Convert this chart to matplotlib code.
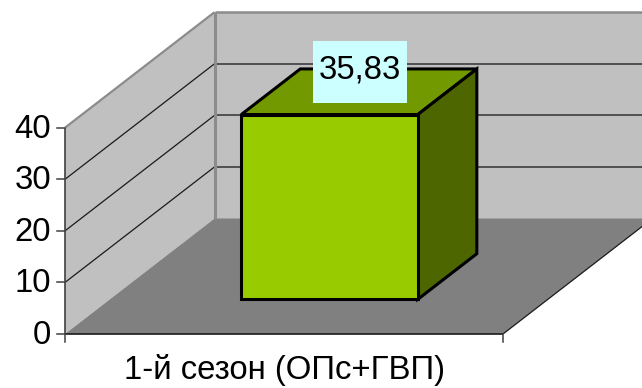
"""
3D-style single column chart drawn with an oblique projection.
"""
import matplotlib
matplotlib.use("Agg")
import matplotlib.pyplot as plt
from matplotlib.patches import Polygon

plt.rcParams["font.family"] = ["Liberation Sans", "DejaVu Sans"]

categories = ["1-й сезон (ОПс+ГВП)"]
values = [35.83]
value_labels = ["35,83"]
y_ticks = [0, 10, 20, 30, 40]

# Projection of the plot box on the canvas, in pixels
X0, X1 = 65.0, 503.0
Y0, Y40 = 334.0, 127.7
DEPTH_DX, DEPTH_DY = 149.5, -115.5
Y_MAX = y_ticks[-1]

# Column extents as fractions of the category width and of the box depth
BAR_LEFT, BAR_RIGHT = 0.30, 0.703
BAR_FRONT, BAR_BACK = 0.30, 0.695

WALL = "#c0c0c0"
FLOOR = "#808080"
EDGE = "#8c8c8c"
FONT_SIZE = 23.7


def project(x, y, depth=0.0):
    """Map category fraction, value and depth fraction to canvas pixels."""
    px = X0 + (X1 - X0) * x + DEPTH_DX * depth
    py = Y0 - (Y0 - Y40) * y / Y_MAX + DEPTH_DY * depth
    return px, py


def face(ax, corners, color, edge="none", lw=0.0, z=1):
    ax.add_patch(Polygon([project(*c) for c in corners], closed=True, facecolor=color,
                         edgecolor=edge, linewidth=lw, joinstyle="miter", zorder=z))


def line(ax, start, end, color, lw, z=2):
    (x1, y1), (x2, y2) = project(*start), project(*end)
    ax.plot([x1, x2], [y1, y2], color=color, linewidth=lw, zorder=z,
            solid_capstyle="butt")


fig = plt.figure(figsize=(6.42, 3.88), dpi=100, facecolor="white")
ax = fig.add_axes([0, 0, 1, 1])
ax.set_xlim(0, 642)
ax.set_ylim(388, 0)
ax.axis("off")

# Walls and floor
face(ax, [(0, 0, 0), (0, Y_MAX, 0), (0, Y_MAX, 1), (0, 0, 1)], WALL)
face(ax, [(0, 0, 1), (0, Y_MAX, 1), (1, Y_MAX, 1), (1, 0, 1)], WALL)
face(ax, [(0, 0, 0), (0, 0, 1), (1, 0, 1), (1, 0, 0)], FLOOR)

# Gridlines run along the side wall and across the back wall
for tick in y_ticks[1:-1]:
    line(ax, (0, tick, 0), (0, tick, 1), "#1a1a1a", 0.9)
    line(ax, (0, tick, 1), (1, tick, 1), "#333333", 1.1)

# Wall borders
line(ax, (0, Y_MAX, 0), (0, Y_MAX, 1), EDGE, 1.6)
line(ax, (0, Y_MAX, 1), (1, Y_MAX, 1), EDGE, 1.8)
line(ax, (0, 0, 1), (0, Y_MAX, 1), EDGE, 2.2)

# Axes and tick marks
line(ax, (0, 0, 0), (0, Y_MAX, 0), "#404040", 1.2, z=3)
line(ax, (0, 0, 0), (1, 0, 0), "#1a1a1a", 1.2, z=3)
line(ax, (1, 0, 0), (1, 0, 1), "#1a1a1a", 0.9, z=3)
for tick in y_ticks:
    px, py = project(0, tick)
    ax.plot([px - 8, px], [py, py], color="#404040", linewidth=1.1, zorder=3)
    ax.text(px - 14, py - 2, str(tick), ha="right", va="center_baseline",
            fontsize=FONT_SIZE, color="black")
for frac in [0, 1]:
    px, py = project(frac, 0)
    ax.plot([px, px], [py, py + 8], color="#404040", linewidth=1.1, zorder=3)

# Column: top, side, then front so the front edges sit on top
value = values[0]
top = [(BAR_LEFT, value, BAR_FRONT), (BAR_LEFT, value, BAR_BACK),
       (BAR_RIGHT, value, BAR_BACK), (BAR_RIGHT, value, BAR_FRONT)]
side = [(BAR_RIGHT, 0, BAR_FRONT), (BAR_RIGHT, value, BAR_FRONT),
        (BAR_RIGHT, value, BAR_BACK), (BAR_RIGHT, 0, BAR_BACK)]
front = [(BAR_LEFT, 0, BAR_FRONT), (BAR_LEFT, value, BAR_FRONT),
         (BAR_RIGHT, value, BAR_FRONT), (BAR_RIGHT, 0, BAR_FRONT)]
face(ax, top, "#739900", "black", 2.2, z=4)
face(ax, side, "#4d6600", "black", 2.2, z=4)
face(ax, front, "#99cc00", "black", 2.2, z=5)

# Value label in its box, centred on the top face of the column
label_x, label_y = project((BAR_LEFT + BAR_RIGHT) / 2, value, (BAR_FRONT + BAR_BACK) / 2)
ax.add_patch(plt.Rectangle((label_x - 46, label_y - 51), 94, 62, facecolor="#ccffff",
                           edgecolor="none", zorder=6))
ax.text(label_x + 1, label_y - 13, value_labels[0], ha="center", va="baseline",
        fontsize=FONT_SIZE, color="black", zorder=7)

# Category label under the front edge
cat_x, cat_y = project(0.5, 0)
ax.text(cat_x + 1, cat_y + 36, categories[0], ha="center", va="center",
        fontsize=FONT_SIZE, color="black")

fig.savefig("out.png", dpi=100)
